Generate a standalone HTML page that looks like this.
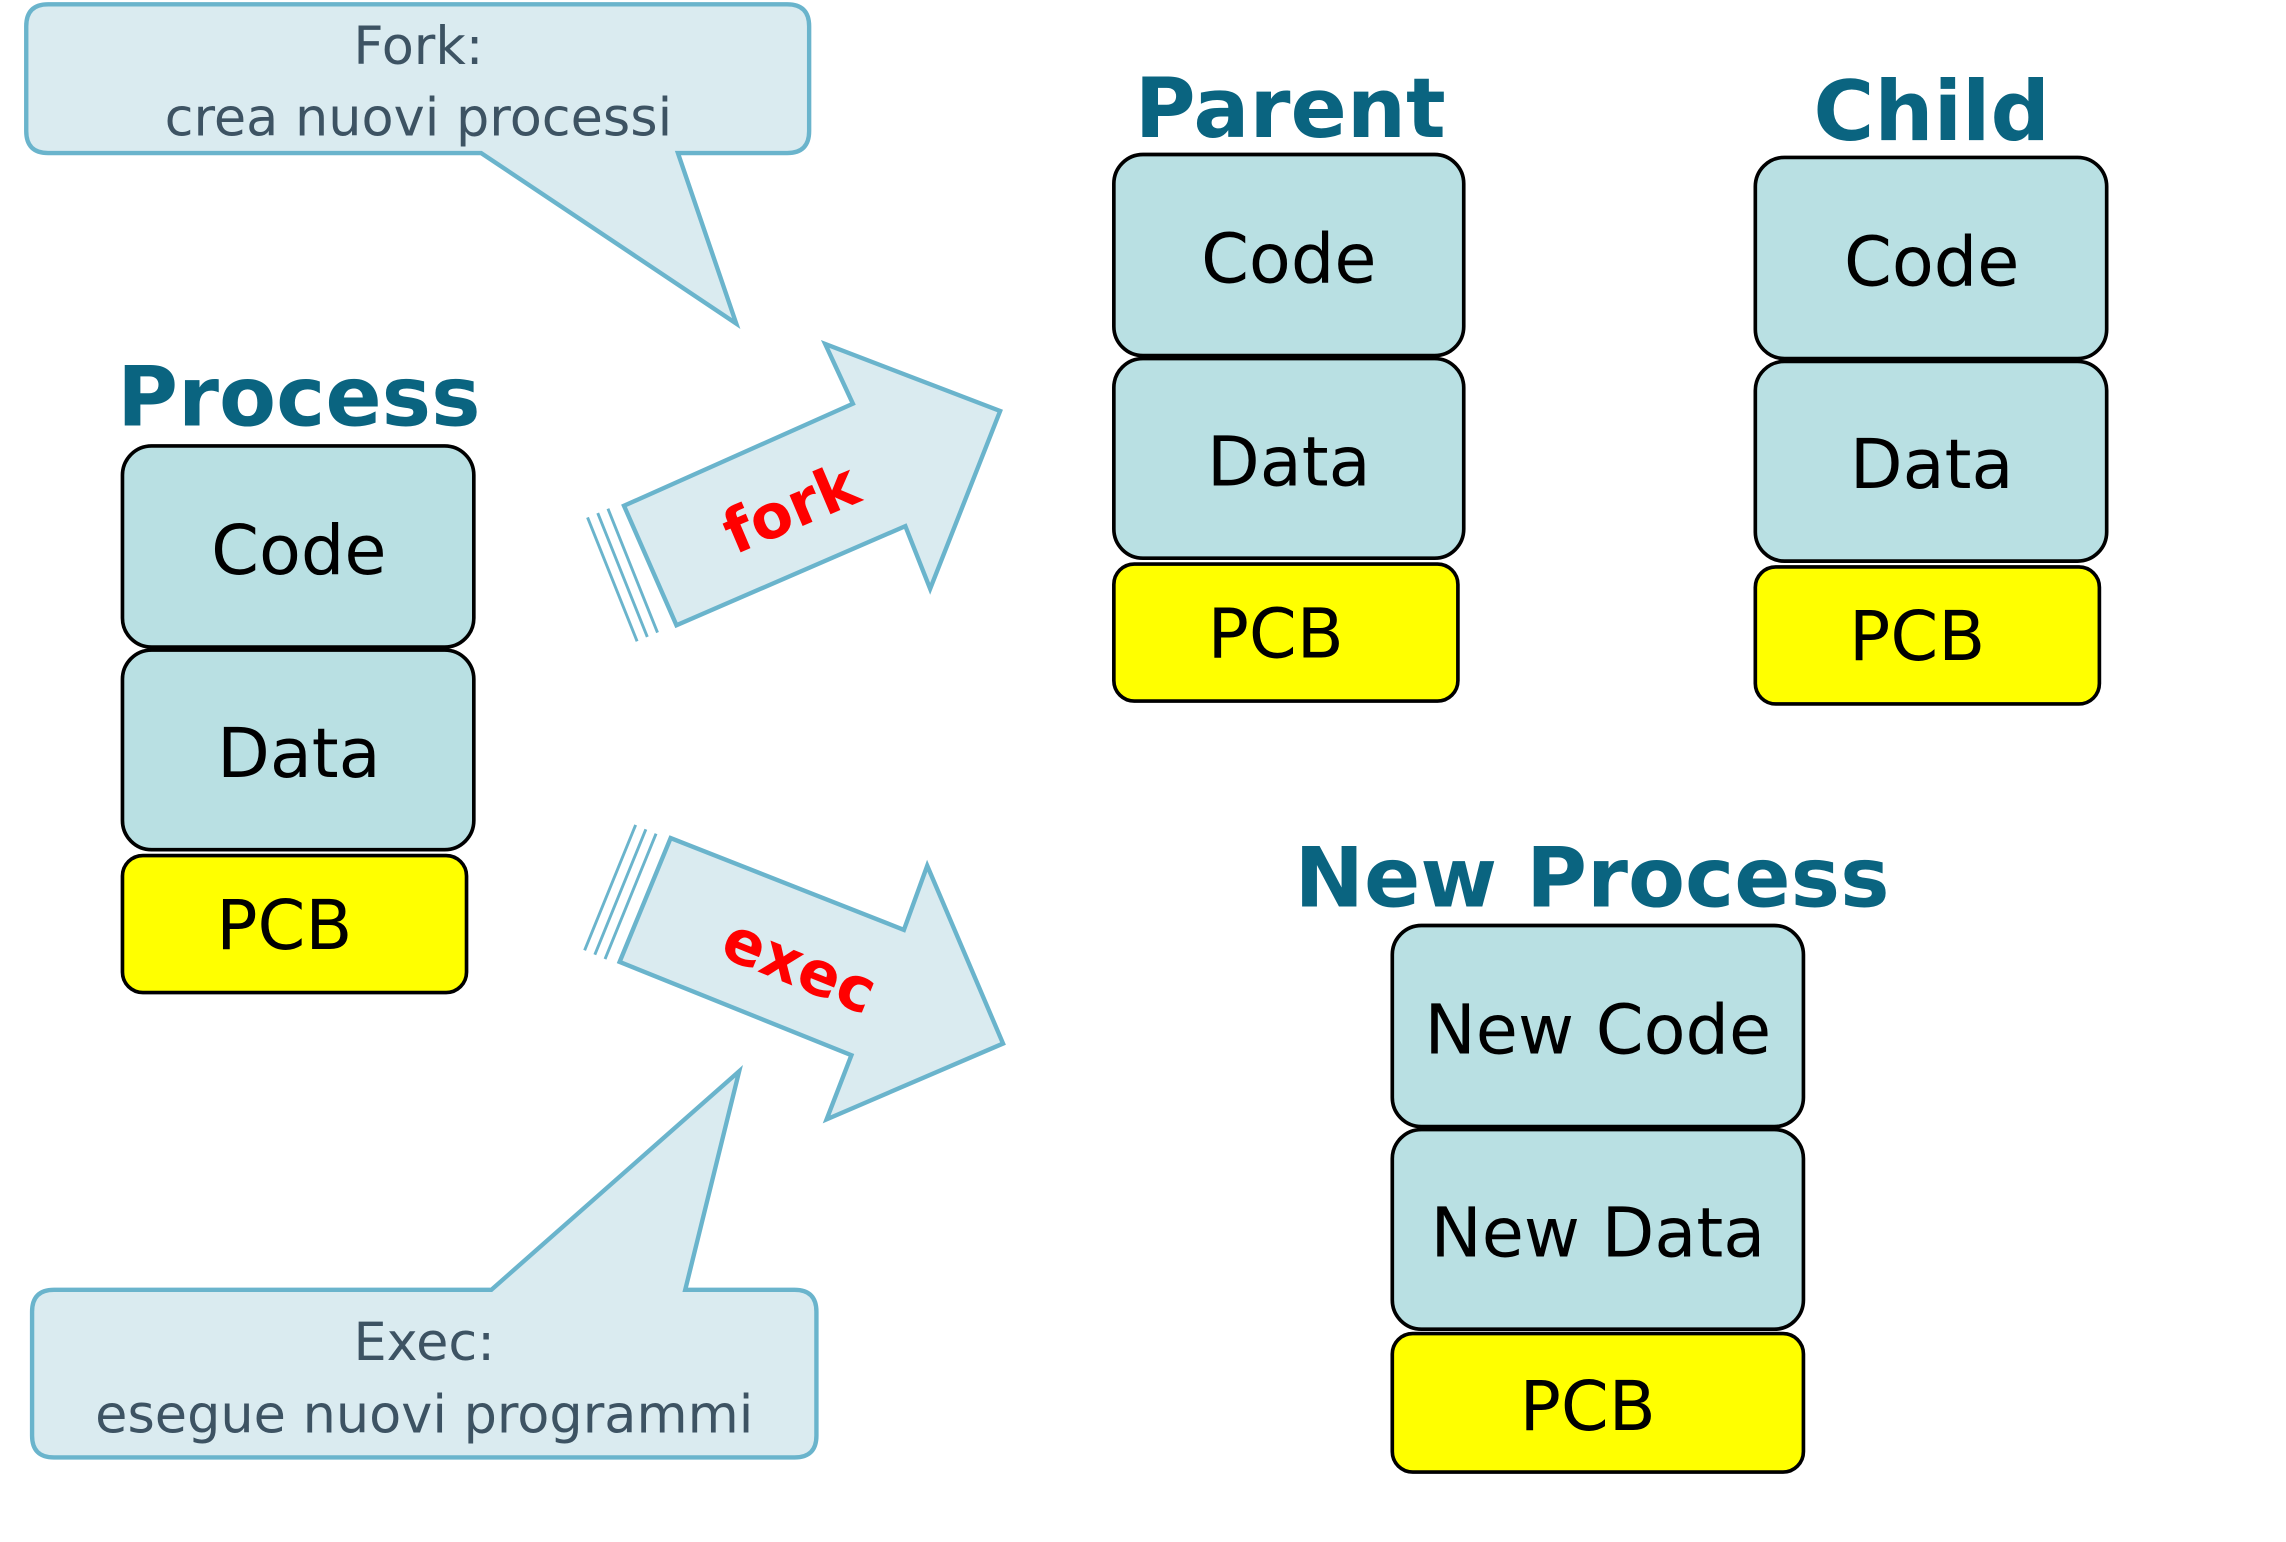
<!DOCTYPE html>
<html><head><meta charset="utf-8"><style>
html,body{margin:0;padding:0;background:#fff;}
svg{display:block}
text{font-family:"DejaVu Sans","Liberation Sans",sans-serif;}
</style></head><body>
<svg width="2286" height="1542" viewBox="0 0 1568 1058" preserveAspectRatio="none" xmlns="http://www.w3.org/2000/svg">
<g stroke="#6ab4cc" stroke-width="3" fill="#daebf0">
<path d="M33,3 H540 Q555,3 555,18 V90 Q555,105 540,105 H465 L505,222 L330,105 H33 Q18,105 18,90 V18 Q18,3 33,3 Z"/>
<path d="M37,885 H337 L507,735 L470,885 H545 Q560,885 560,900 V985 Q560,1000 545,1000 H37 Q22,1000 22,985 V900 Q22,885 37,885 Z"/>
<polygon points="428,347 585,277 566,236 686,282 638,404 621,361 464,429"/>
<polygon points="460,575 620,638 636,594 688,716 567,768 584,724 425,660"/>
<g fill="none" stroke-width="2">
<line x1="403" y1="355" x2="437" y2="440"/><line x1="410" y1="352" x2="444" y2="437"/><line x1="417" y1="349" x2="451" y2="434"/>
<line x1="436" y1="566" x2="401" y2="652"/><line x1="443" y1="569" x2="408" y2="655"/><line x1="450" y1="572" x2="415" y2="658"/>
</g>
</g>
<g font-size="36" fill="#3d5363" text-anchor="middle">
<text x="287" y="44">Fork:</text><text x="287" y="93">crea nuovi processi</text>
<text x="291" y="933">Exec:</text><text x="291" y="983">esegue nuovi programmi</text>
</g>
<g font-weight="bold" font-size="42" fill="#ff0000" text-anchor="middle">
<text transform="translate(548,362) rotate(-23)">fork</text>
<text transform="translate(543,676) rotate(22)">exec</text>
</g>
<g font-weight="bold" font-size="57" fill="#0a6480" text-anchor="middle">
<text x="205" y="292">Process</text>
<text x="885" y="94">Parent</text>
<text x="1325" y="96">Child</text>
<text x="1092" y="622">New Process</text>
</g>
<g stroke="#000" stroke-width="2.5">
<g fill="#b9e0e3">
<rect x="84" y="306" width="241" height="138" rx="20"/>
<rect x="84" y="446" width="241" height="137" rx="20"/>
<rect x="764" y="106" width="240" height="138" rx="20"/>
<rect x="764" y="246" width="240" height="137" rx="20"/>
<rect x="1204" y="108" width="241" height="138" rx="20"/>
<rect x="1204" y="248" width="241" height="137" rx="20"/>
<rect x="955" y="635" width="282" height="138" rx="20"/>
<rect x="955" y="775" width="282" height="137" rx="20"/>
</g>
<g fill="#ffff00">
<rect x="84" y="587" width="236" height="94" rx="14"/>
<rect x="764" y="387" width="236" height="94" rx="14"/>
<rect x="1204" y="389" width="236" height="94" rx="14"/>
<rect x="955" y="915" width="282" height="95" rx="14"/>
</g>
</g>
<g font-size="47" fill="#000" text-anchor="middle">
<text x="205" y="394">Code</text><text x="205" y="533">Data</text><text x="195" y="651">PCB</text>
<text x="884" y="194">Code</text><text x="884" y="333">Data</text><text x="875" y="451">PCB</text>
<text x="1325" y="196">Code</text><text x="1325" y="335">Data</text><text x="1315" y="453">PCB</text>
<text x="1096" y="723">New Code</text><text x="1096" y="862">New Data</text><text x="1089" y="981">PCB</text>
</g>
</svg>
</body></html>
